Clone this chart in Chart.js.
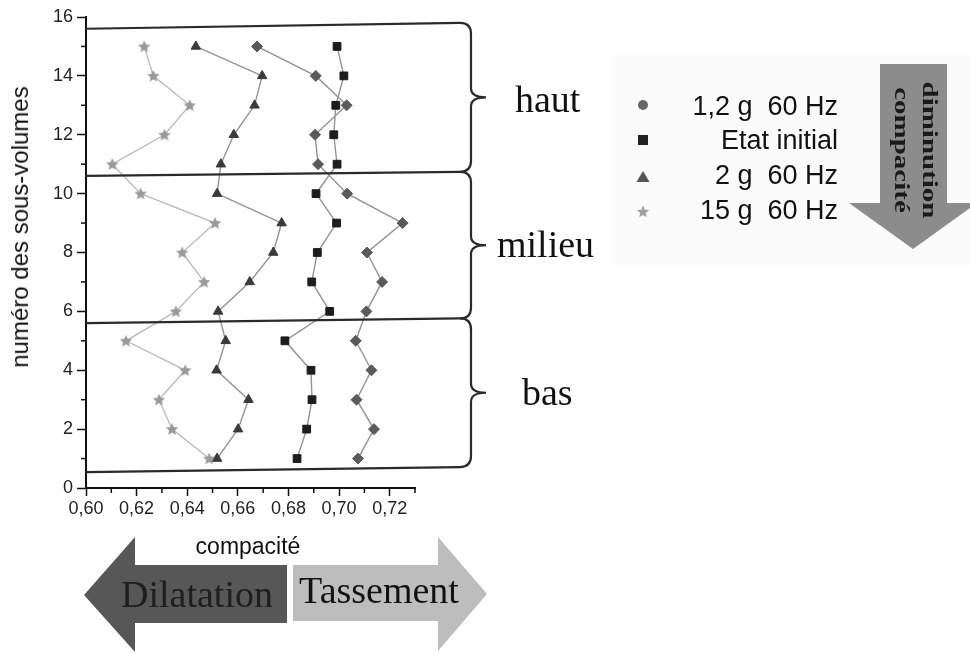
<!DOCTYPE html>
<html><head><meta charset="utf-8">
<script src="https://cdn.jsdelivr.net/npm/chart.js@4.4.0/dist/chart.umd.min.js"></script>
<style>
html,body{margin:0;padding:0;background:#fff;}
#wrap{position:relative;width:970px;height:653px;overflow:hidden;font-family:"Liberation Sans",Arial,sans-serif;color:#111;}
#c{position:absolute;left:0;top:0;}
.abs{position:absolute;white-space:pre;}
.serif{font-family:"Liberation Serif","Times New Roman",serif;}
.leg{font-size:27px;line-height:27px;right:132px;text-align:right;}
.lab{font-size:38px;line-height:38px;color:#111;}
.rot{font-size:20px;line-height:20px;font-weight:bold;color:#1a1a1a;transform:translate(-50%,-50%) rotate(90deg) scaleX(1.45);}
</style></head><body>
<div id="wrap">
<svg width="970" height="653" style="position:absolute;left:0;top:0">
 <rect x="612" y="55" width="358" height="210" fill="#fbfbfb"/>
 <polygon points="880,64 947,64 947,203 977,203 913,249 849,203 880,203" fill="#8c8c8c"/>
 <polygon points="84,595 135,537 135,565 287,565 287,623 135,623 135,652" fill="#575757"/>
 <polygon points="293,565 438,565 438,537 487,594 438,651 438,621 293,621" fill="#bdbdbd"/>
 <circle cx="643" cy="105" r="5" fill="#666"/>
 <rect x="638" y="135" width="10" height="10" fill="#222"/>
 <polygon points="643,171 649.5,182 636.5,182" fill="#555"/>
 <polygon id="legstar" fill="#a0a0a0" points=""/>
</svg>
<canvas id="c" width="970" height="653"></canvas>

<div class="abs" style="left:20px;top:227px;font-size:24px;line-height:24px;transform:translate(-50%,-50%) rotate(-90deg);">numéro des sous-volumes</div>
<div class="abs" style="left:248px;top:535px;font-size:23px;line-height:23px;transform:translateX(-50%);">compacité</div>

<div class="abs serif lab" style="left:515px;top:80px;">haut</div>
<div class="abs serif lab" style="left:497px;top:225px;">milieu</div>
<div class="abs serif lab" style="left:522px;top:373px;">bas</div>

<div class="abs leg" style="top:93px;">1,2 g  60 Hz</div>
<div class="abs leg" style="top:127px;">Etat initial</div>
<div class="abs leg" style="top:162px;">2 g  60 Hz</div>
<div class="abs leg" style="top:197px;">15 g  60 Hz</div>

<div class="abs serif rot" style="left:930px;top:150px;">diminution</div>
<div class="abs serif rot" style="left:902px;top:150px;">compacité</div>

<div class="abs serif" style="left:197px;top:575px;font-size:38px;line-height:38px;color:#1e1e1e;transform:translateX(-50%);">Dilatation</div>
<div class="abs serif" style="left:379px;top:571px;font-size:38px;line-height:38px;color:#111;transform:translateX(-50%);">Tassement</div>
</div>

<script>
// ---- data ----
const subVolumes   = [1,2,3,4,5,6,7,8,9,10,11,12,13,14,15];
const comp12g60Hz  = [0.7075,0.7138,0.7069,0.7128,0.7066,0.7108,0.7170,0.7110,0.7251,0.7032,0.6917,0.6905,0.7030,0.6908,0.6676];
const etatInitial  = [0.6834,0.6872,0.6893,0.6889,0.6786,0.6963,0.6892,0.6914,0.6990,0.6909,0.6992,0.6979,0.6987,0.7019,0.6992];
const comp2g60Hz   = [0.6518,0.6601,0.6642,0.6516,0.6552,0.6522,0.6647,0.6740,0.6773,0.6518,0.6533,0.6584,0.6666,0.6696,0.6434];
const comp15g60Hz  = [0.6487,0.6340,0.6288,0.6392,0.6158,0.6355,0.6467,0.6380,0.6510,0.6216,0.6104,0.6310,0.6410,0.6266,0.6230];
const seriesLabels = ['1,2 g  60 Hz','Etat initial','2 g  60 Hz','15 g  60 Hz'];
const xMin = 0.60, xMax = 0.73, yMin = 0, yMax = 16;
// zone boundaries (sub-volume level at left end, at right end)
const zoneLevels = [[15.6,15.8],[10.6,10.74],[5.6,5.76],[0.54,0.71]];

function starPoints(cx, cy, ro, ri){
  const p=[];
  for(let i=0;i<10;i++){
    const r = i%2===0?ro:ri;
    const a = -Math.PI/2 + i*Math.PI/5;
    p.push([cx + r*Math.cos(a), cy + r*Math.sin(a)]);
  }
  return p;
}
function makeStar(size, color){
  const c=document.createElement('canvas'); c.width=c.height=size;
  const g=c.getContext('2d');
  const pts=starPoints(size/2,size/2+0.5,size/2-0.5,size/4.6);
  g.beginPath(); pts.forEach((p,i)=> i?g.lineTo(p[0],p[1]):g.moveTo(p[0],p[1])); g.closePath();
  g.fillStyle=color; g.fill();
  return c;
}
document.getElementById('legstar').setAttribute('points',
  starPoints(643,212,6.5,2.9).map(p=>p.join(',')).join(' '));

const starImg = makeStar(14,'#9a9a9a');
const toPts = arr => subVolumes.map((y,i)=>({x:arr[i], y:y}));

const isMajorX = v => Math.round(v*100)%2===0;
const isMajorY = v => Math.round(v)%2===0;

const extras = {
  id:'extras',
  afterDraw(chart){
    const {ctx, chartArea:a, scales:{x,y}} = chart;
    ctx.save();
    // minor ticks
    ctx.strokeStyle='#111'; ctx.lineWidth=1.5;
    for(let k=61;k<=73;k+=2){
      const px = x.getPixelForValue(k/100);
      ctx.beginPath(); ctx.moveTo(px,a.bottom); ctx.lineTo(px,a.bottom+5); ctx.stroke();
    }
    for(let k=1;k<=15;k+=2){
      const py = y.getPixelForValue(k);
      ctx.beginPath(); ctx.moveTo(a.left-5,py); ctx.lineTo(a.left,py); ctx.stroke();
    }
    // zone lines and braces
    const xR = a.right+45, xB = a.right+56, xT = a.right+71;
    ctx.strokeStyle='#2a2a2a'; ctx.lineWidth=2.2;
    zoneLevels.forEach(l=>{
      ctx.beginPath();
      ctx.moveTo(a.left, y.getPixelForValue(l[0]));
      ctx.lineTo(xR, y.getPixelForValue(l[1]));
      ctx.stroke();
    });
    for(let i=0;i<zoneLevels.length-1;i++){
      const top = y.getPixelForValue(zoneLevels[i][1]);
      const bot = y.getPixelForValue(zoneLevels[i+1][1]);
      const mid = (top+bot)/2;
      ctx.beginPath();
      ctx.moveTo(xR, top);
      ctx.quadraticCurveTo(xB, top, xB, top+11);
      ctx.lineTo(xB, mid-9);
      ctx.quadraticCurveTo(xB, mid, xT, mid);
      ctx.quadraticCurveTo(xB, mid, xB, mid+9);
      ctx.lineTo(xB, bot-11);
      ctx.quadraticCurveTo(xB, bot, xR, bot);
      ctx.stroke();
    }
    ctx.restore();
  }
};

const tickFont = {size:18, family:'"Liberation Sans", Arial, sans-serif'};

new Chart(document.getElementById('c').getContext('2d'), {
  type:'scatter',
  data:{datasets:[
    {label:seriesLabels[0], data:toPts(comp12g60Hz), showLine:true, borderColor:'#939393', borderWidth:1.4,
     pointStyle:'rectRot', pointRadius:5.5, pointBackgroundColor:'#5a5a5a', pointBorderColor:'#5a5a5a', pointBorderWidth:1},
    {label:seriesLabels[1], data:toPts(etatInitial), showLine:true, borderColor:'#939393', borderWidth:1.4,
     pointStyle:'rect', pointRadius:5.5, pointBackgroundColor:'#1c1c1c', pointBorderColor:'#1c1c1c', pointBorderWidth:1},
    {label:seriesLabels[2], data:toPts(comp2g60Hz), showLine:true, borderColor:'#939393', borderWidth:1.4,
     pointStyle:'triangle', pointRadius:5.5, pointBackgroundColor:'#3a3a3a', pointBorderColor:'#3a3a3a', pointBorderWidth:1},
    {label:seriesLabels[3], data:toPts(comp15g60Hz), showLine:true, borderColor:'#bcbcbc', borderWidth:1.4,
     pointStyle:starImg, pointRadius:7, pointBackgroundColor:'#9a9a9a'}
  ]},
  options:{
    responsive:false, animation:false, devicePixelRatio:1,
    layout:{padding:{left:0, top:17, right:555, bottom:0}, autoPadding:false},
    plugins:{legend:{display:false}, tooltip:{enabled:false}},
    scales:{
      x:{type:'linear', position:'bottom', min:xMin, max:xMax,
        afterFit(s){ s.height = 165; },
        border:{display:true, color:'#111', width:2},
        grid:{drawOnChartArea:false, drawTicks:true, tickLength:8, tickWidth:1.5,
              tickColor:c=> isMajorX(c.tick.value)?'#111':'rgba(0,0,0,0)'},
        ticks:{stepSize:0.01, autoSkip:false, maxRotation:0, minRotation:0, padding:2, color:'#222', font:tickFont,
          callback:v=> isMajorX(v) ? (Math.round(v*100)/100).toFixed(2).replace('.',',') : ''}
      },
      y:{type:'linear', position:'left', min:yMin, max:yMax,
        afterFit(s){ s.width = 86; },
        border:{display:true, color:'#111', width:2},
        grid:{drawOnChartArea:false, drawTicks:true, tickLength:9, tickWidth:1.5,
              tickColor:c=> isMajorY(c.tick.value)?'#111':'rgba(0,0,0,0)'},
        ticks:{stepSize:1, autoSkip:false, padding:4, color:'#222', font:tickFont,
          callback:v=> isMajorY(v) ? String(Math.round(v)) : ''}
      }
    }
  },
  plugins:[extras]
});
</script>
</body></html>
